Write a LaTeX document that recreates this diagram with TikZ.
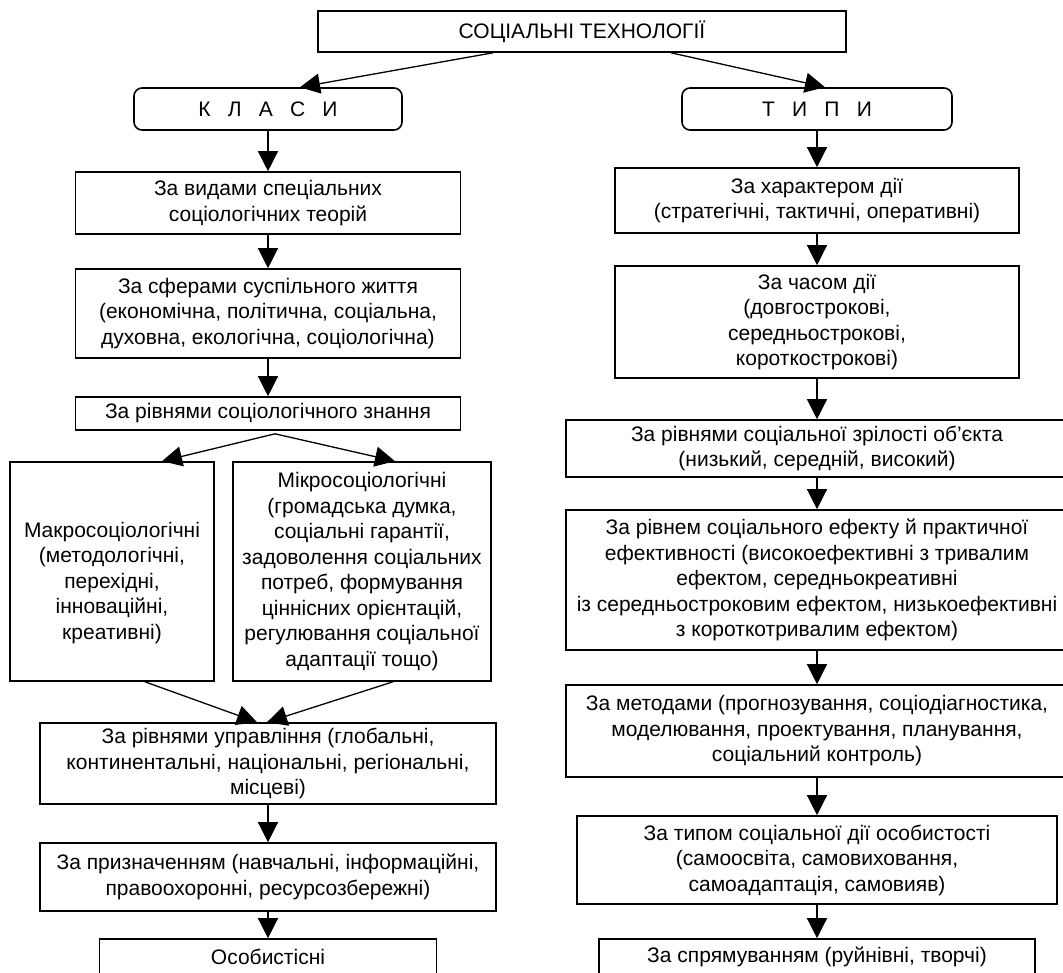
\documentclass[tikz,border=0pt]{standalone}
\usepackage{fontspec}
\setmainfont{Liberation Sans}
\usetikzlibrary{arrows.meta}

\tikzset{
  box/.style={draw, line width=1.6bp, align=center, inner sep=2bp,
    font=\fontsize{21bp}{25.5bp}\selectfont},
  rbox/.style={box, rounded corners=8bp},
  arr/.style={line width=1.3bp, -{Triangle[length=20bp,width=20bp]}}
}

\begin{document}
\begin{tikzpicture}[x=1bp,y=-1bp]
    \useasboundingbox (0,0) rectangle (1063,973);

    \node[box, minimum width=528bp, minimum height=41bp] (tech) at (582,31.5) {СОЦІАЛЬНІ ТЕХНОЛОГІЇ};
    \node[rbox, minimum width=268bp, minimum height=42bp] (klasy) at (268,109)
        {К\hspace{0.82em}Л\hspace{0.82em}А\hspace{0.82em}С\hspace{0.82em}И};
    \node[rbox, minimum width=270bp, minimum height=42bp] (typy) at (817,109)
        {Т\hspace{0.82em}И\hspace{0.82em}П\hspace{0.82em}И};

    % classes
    \node[box, minimum width=385bp, minimum height=62bp] (vydy) at (268,203)
        {За видами спеціальних\\соціологічних теорій};
    \node[box, minimum width=385bp, minimum height=89bp] (sfery) at (268,313.5)
        {За сферами суспільного життя\\(економічна, політична, соціальна,\\духовна, екологічна, соціологічна)};
    \node[box, minimum width=385bp, minimum height=33bp] (znannia) at (268,413.5)
        {За рівнями соціологічного знання};
    \node[box, minimum width=204bp, minimum height=219bp] (makro) at (112,571.5)
        {\mbox{}\\[12bp]Макросоціологічні\\(методологічні,\\перехідні,\\інноваційні,\\креативні)};
    \node[box, minimum width=258bp, minimum height=219bp] (mikro) at (362,571.5)
        {Мікросоціологічні\\(громадська думка,\\соціальні гарантії,\\задоволення соціальних\\потреб, формування\\ціннісних орієнтацій,\\регулювання соціальної\\адаптації тощо)};
    \node[box, minimum width=456bp, minimum height=81bp] (upr) at (268,763.5)
        {За рівнями управління (глобальні,\\континентальні, національні, регіональні,\\місцеві)};
    \node[box, minimum width=456bp, minimum height=68bp] (pryzn) at (268,877)
        {За призначенням (навчальні, інформаційні,\\правоохоронні, ресурсозбережні)};
    \node[box, minimum width=337bp, minimum height=36bp] (osob) at (268,957) {Особистісні};

    % types
    \node[box, minimum width=404bp, minimum height=65bp] (xar) at (817,200.5)
        {За характером дії\\(стратегічні, тактичні, оперативні)};
    \node[box, minimum width=404bp, minimum height=112bp] (chas) at (817,322)
        {За часом дії\\(довгострокові,\\середньострокові,\\короткострокові)};
    \node[box, minimum width=502bp, minimum height=57bp] (zril) at (817,448.5)
        {За рівнями соціальної зрілості об’єкта\\(низький, середній, високий)};
    \node[box, minimum width=502bp, minimum height=140bp] (efekt) at (817,580)
        {За рівнем соціального ефекту й практичної\\ефективності (високоефективні з тривалим\\ефектом, середньокреативні\\із середньостроковим ефектом, низькоефективні\\з короткотривалим ефектом)};
    \node[box, minimum width=502bp, minimum height=92bp] (metody) at (817,731)
        {За методами (прогнозування, соціодіагностика,\\моделювання, проектування, планування,\\соціальний контроль)};
    \node[box, minimum width=480bp, minimum height=88bp] (typ) at (817,860)
        {За типом соціальної дії особистості\\(самоосвіта, самовиховання,\\самоадаптація, самовияв)};
    \node[box, minimum width=436bp, minimum height=36bp] (spr) at (817,957)
        {За спрямуванням (руйнівні, творчі)};

    % arrows
    \draw[arr] ([xshift=-89bp]tech.south) -- ([xshift=32bp]klasy.north);
    \draw[arr] ([xshift=89bp]tech.south) -- ([xshift=8bp]typy.north);

    \draw[arr] (klasy) -- (vydy);
    \draw[arr] (vydy) -- (sfery);
    \draw[arr] (sfery) -- (znannia);
    \coordinate (split) at ([shift={(7,3)}]znannia.south);
    \draw[arr] (split) -- ([xshift=50bp]makro.north);
    \draw[arr] (split) -- ([xshift=33bp]mikro.north);
    \draw[arr] ([xshift=33bp]makro.south) -- ([xshift=-11bp]upr.north);
    \draw[arr] ([xshift=31bp]mikro.south) -- ([xshift=-1bp]upr.north);
    \draw[arr] (upr) -- (pryzn);
    \draw[arr] (pryzn) -- (osob);

    \draw[arr] (typy) -- (xar);
    \draw[arr] (xar) -- (chas);
    \draw[arr] (chas) -- (zril);
    \draw[arr] (zril) -- (efekt);
    \draw[arr] (efekt) -- (metody);
    \draw[arr] (metody) -- (typ);
    \draw[arr] (typ) -- (spr);
\end{tikzpicture}
\end{document}
